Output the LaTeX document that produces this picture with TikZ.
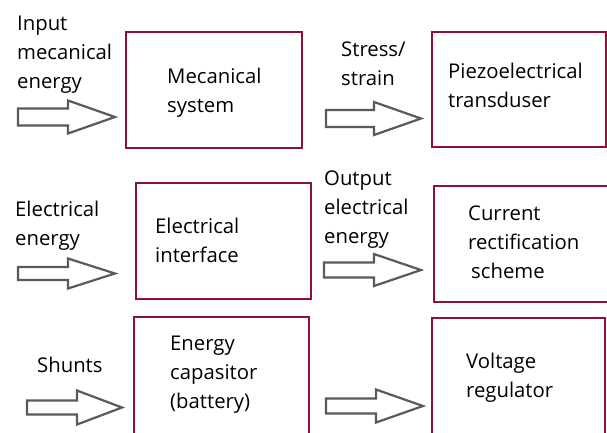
\documentclass[tikz,border=0pt]{standalone}
\usepackage{fontspec}
\setmainfont{Open Sans}
\definecolor{boxred}{RGB}{140,18,45}
\definecolor{arrgray}{RGB}{90,90,90}
\newcommand{\blockarr}[7]{% name, left x, head base x, tip x, centre y, half shaft, half head
  \draw[arrowshape] (#2,#5-#6) -- (#3,#5-#6) -- (#3,#5-#7) -- (#4,#5)
    -- (#3,#5+#7) -- (#3,#5+#6) -- (#2,#5+#6) -- cycle;
  \coordinate (#1) at (#4,#5);}
\begin{document}
\begin{tikzpicture}[x=1pt,y=-1pt,
  blockbox/.style={draw=boxred,line width=2.5pt},
  arrowshape/.style={draw=arrgray,line width=2.2pt,fill=white,line join=miter},
  lbl/.style={anchor=base west,inner sep=0pt,align=left,
    font=\fontsize{20.3pt}{29pt}\selectfont}]
\useasboundingbox[fill=white] (0,0) rectangle (607,432);
% boxes
\draw[blockbox] (126,32) rectangle (302,148);
\draw[blockbox] (432,32) rectangle (606,147);
\draw[blockbox] (136,183) rectangle (311,299);
\draw[blockbox] (434,186) rectangle (612,302);
\draw[blockbox] (134,317) rectangle (309,440);
\draw[blockbox] (432,318) rectangle (605,440);
% arrows
\blockarr{a1}{18}{68}{115}{117}{8.5}{16.5}
\blockarr{a2}{326}{374}{421}{118.5}{8.5}{16.5}
\blockarr{a3}{18}{68}{115}{273.5}{6.5}{15}
\blockarr{a4}{324}{374}{421}{270}{7.5}{16}
\blockarr{a5}{27}{77}{122}{407.5}{7}{17}
\blockarr{a6}{326}{376}{423}{406}{7.5}{16.5}
% texts (anchor = baseline of the last line)
\node[lbl] (t1) at (17,88) {Input\\mecanical\\energy};
\node[lbl] (t2) at (167,112) {Mecanical\\system};
\node[lbl] (t3) at (341,85) {Stress/\\strain};
\node[lbl] (t4) at (448,107) {Piezoelectrical\\transduser};
\node[lbl] (t5) at (15,245) {Electrical\\energy};
\node[lbl] (t6) at (155,262) {Electrical\\interface};
\node[lbl] (t7) at (324,243) {Output\\electrical\\energy};
\node[lbl] (t8) at (468,278) {Current\\rectification\\\hspace*{3pt}scheme};
\node[lbl] (t9) at (37,372) {Shunts};
\node[lbl] (t10) at (170,408) {Energy\\capasitor\\(battery)};
\node[lbl] (t11) at (466,397) {Voltage\\regulator};
\end{tikzpicture}
\end{document}
